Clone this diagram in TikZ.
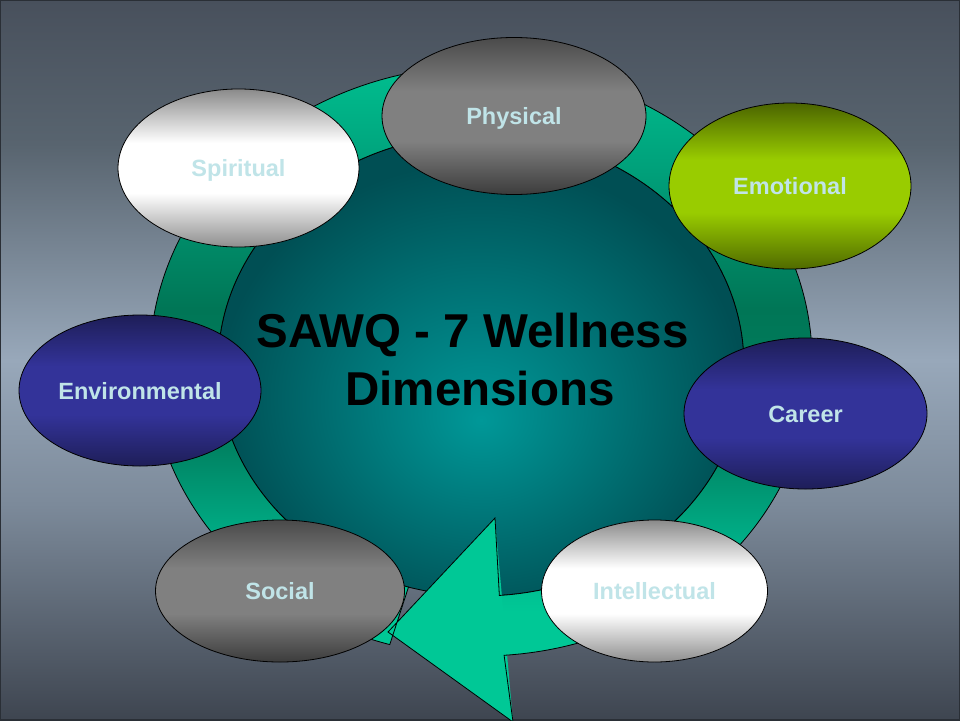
\documentclass[tikz,border=0pt]{standalone}
\usepackage{fontspec}
\setmainfont{Liberation Sans}
\usetikzlibrary{shapes.geometric}
% colours
\definecolor{bgtop}{HTML}{48505C}
\definecolor{bghi}{HTML}{58646F}
\definecolor{bgmid}{HTML}{98A8BA}
\definecolor{bglo}{HTML}{7C8A9A}
\definecolor{bgbot}{HTML}{3E4550}
\definecolor{frame}{HTML}{2A2F36}
\definecolor{ringA}{HTML}{00C896}
\definecolor{ringB}{HTML}{00A07A}
\definecolor{ringC}{HTML}{007656}
\definecolor{ringD}{HTML}{008262}
\definecolor{ringE}{HTML}{00B088}
\definecolor{ctrin}{HTML}{009898}
\definecolor{ctrout}{HTML}{004F54}
\definecolor{grayT}{HTML}{4A4A4A}
\definecolor{grayM}{HTML}{808080}
\definecolor{grayB}{HTML}{3C3C3C}
\definecolor{whiteT}{HTML}{8A8A8A}
\definecolor{whiteM}{HTML}{FFFFFF}
\definecolor{whiteB}{HTML}{8E8E8E}
\definecolor{greenT}{HTML}{4B6400}
\definecolor{greenM}{HTML}{99CC00}
\definecolor{greenB}{HTML}{506A00}
\definecolor{navyT}{HTML}{1E1E58}
\definecolor{navyM}{HTML}{333399}
\definecolor{navyB}{HTML}{1E1E58}
\definecolor{labeltxt}{HTML}{C0E4E8}
% shadings
\pgfdeclareverticalshading{bgshade}{100bp}{color(0bp)=(bgbot); color(25bp)=(bgbot); color(40bp)=(bglo); color(50bp)=(bgmid); color(65bp)=(bghi); color(75bp)=(bgtop); color(100bp)=(bgtop)}
\pgfdeclareverticalshading{ringshade}{100bp}{color(0bp)=(ringA); color(33bp)=(ringA); color(38bp)=(ringE); color(45bp)=(ringD); color(55bp)=(ringC); color(65bp)=(ringB); color(75bp)=(ringA); color(100bp)=(ringA)}
\pgfdeclareradialshading{ctrshade}{\pgfpoint{0bp}{-6bp}}{color(0bp)=(ctrin); color(25bp)=(ctrout); color(50bp)=(ctrout)}
\pgfdeclareverticalshading{grayshade}{100bp}{color(0bp)=(grayB); color(25bp)=(grayB); color(42bp)=(grayM); color(58bp)=(grayM); color(75bp)=(grayT); color(100bp)=(grayT)}
\pgfdeclareverticalshading{whiteshade}{100bp}{color(0bp)=(whiteB); color(25bp)=(whiteB); color(42bp)=(whiteM); color(58bp)=(whiteM); color(75bp)=(whiteT); color(100bp)=(whiteT)}
\pgfdeclareverticalshading{greenshade}{100bp}{color(0bp)=(greenB); color(25bp)=(greenB); color(42bp)=(greenM); color(58bp)=(greenM); color(75bp)=(greenT); color(100bp)=(greenT)}
\pgfdeclareverticalshading{navyshade}{100bp}{color(0bp)=(navyB); color(25bp)=(navyB); color(42bp)=(navyM); color(58bp)=(navyM); color(75bp)=(navyT); color(100bp)=(navyT)}
\tikzset{
  dimension/.style={ellipse, draw=black, line width=0.8pt, inner sep=0pt,
    text=labeltxt, font=\fontsize{23.5}{28}\selectfont\bfseries,
    text height=17pt, text depth=0pt},
  grayell/.style={dimension, shade, shading=grayshade},
  whiteell/.style={dimension, shade, shading=whiteshade},
  greenell/.style={dimension, shade, shading=greenshade},
  navyell/.style={dimension, shade, shading=navyshade},
  titletext/.style={font=\fontsize{47.5}{58}\selectfont\bfseries, text=black, inner sep=0pt, anchor=base}
}
\begin{document}
\begin{tikzpicture}[x=1pt,y=-1pt]
\useasboundingbox (0,0) rectangle (960,720);
\clip (0,0) rectangle (960,720);
% background
\shade[shading=bgshade] (0,0) rectangle (960,720);
\draw[frame, line width=1.5pt] (0,0) rectangle (960,720);
% central circle
\shade[shading=ctrshade, draw=black, line width=0.8pt] (481,365) ellipse[x radius=263, y radius=231];
% ring arrow
\coordinate (ctrO) at (481,361);
\coordinate (ctrI) at (481,365);
\coordinate (hd1) at (513,722);
\coordinate (tip) at (388,632);
\coordinate (hd2) at (495,518);
\def\ringpath{([shift={(ctrO)}]106:331 and 295)
    arc[start angle=106, end angle=446, x radius=331, y radius=295]
    -- (hd1) -- (tip) -- (hd2)
    -- ([shift={(ctrI)}]446:263 and 231)
    arc[start angle=446, end angle=106, x radius=263, y radius=231] -- cycle}
\shade[shading=ringshade] \ringpath;
\fill[ringA] (hd1) -- (tip) -- (hd2) -- cycle;
\draw[black, line width=0.8pt, line join=miter] \ringpath;
% title
\node[titletext] (t1) at (472.5,347) {SAWQ - 7 Wellness};
\node[titletext] (t2) at (480,405) {Dimensions};
% dimensions
\node[grayell, minimum width=264pt, minimum height=157pt] (physical) at (514,116) {Physical};
\node[whiteell, minimum width=241pt, minimum height=158pt] (spiritual) at (238.5,168) {Spiritual};
\node[greenell, minimum width=242pt, minimum height=166pt] (emotional) at (790,186) {Emotional};
\node[navyell, minimum width=242pt, minimum height=151pt] (environmental) at (140,390.5) {Environmental};
\node[navyell, minimum width=243pt, minimum height=151pt] (career) at (805.5,413.5) {Career};
\node[grayell, minimum width=249pt, minimum height=142pt] (social) at (280,591) {Social};
\node[whiteell, minimum width=226pt, minimum height=142pt] (intellectual) at (654.5,591) {Intellectual};
\end{tikzpicture}
\end{document}
